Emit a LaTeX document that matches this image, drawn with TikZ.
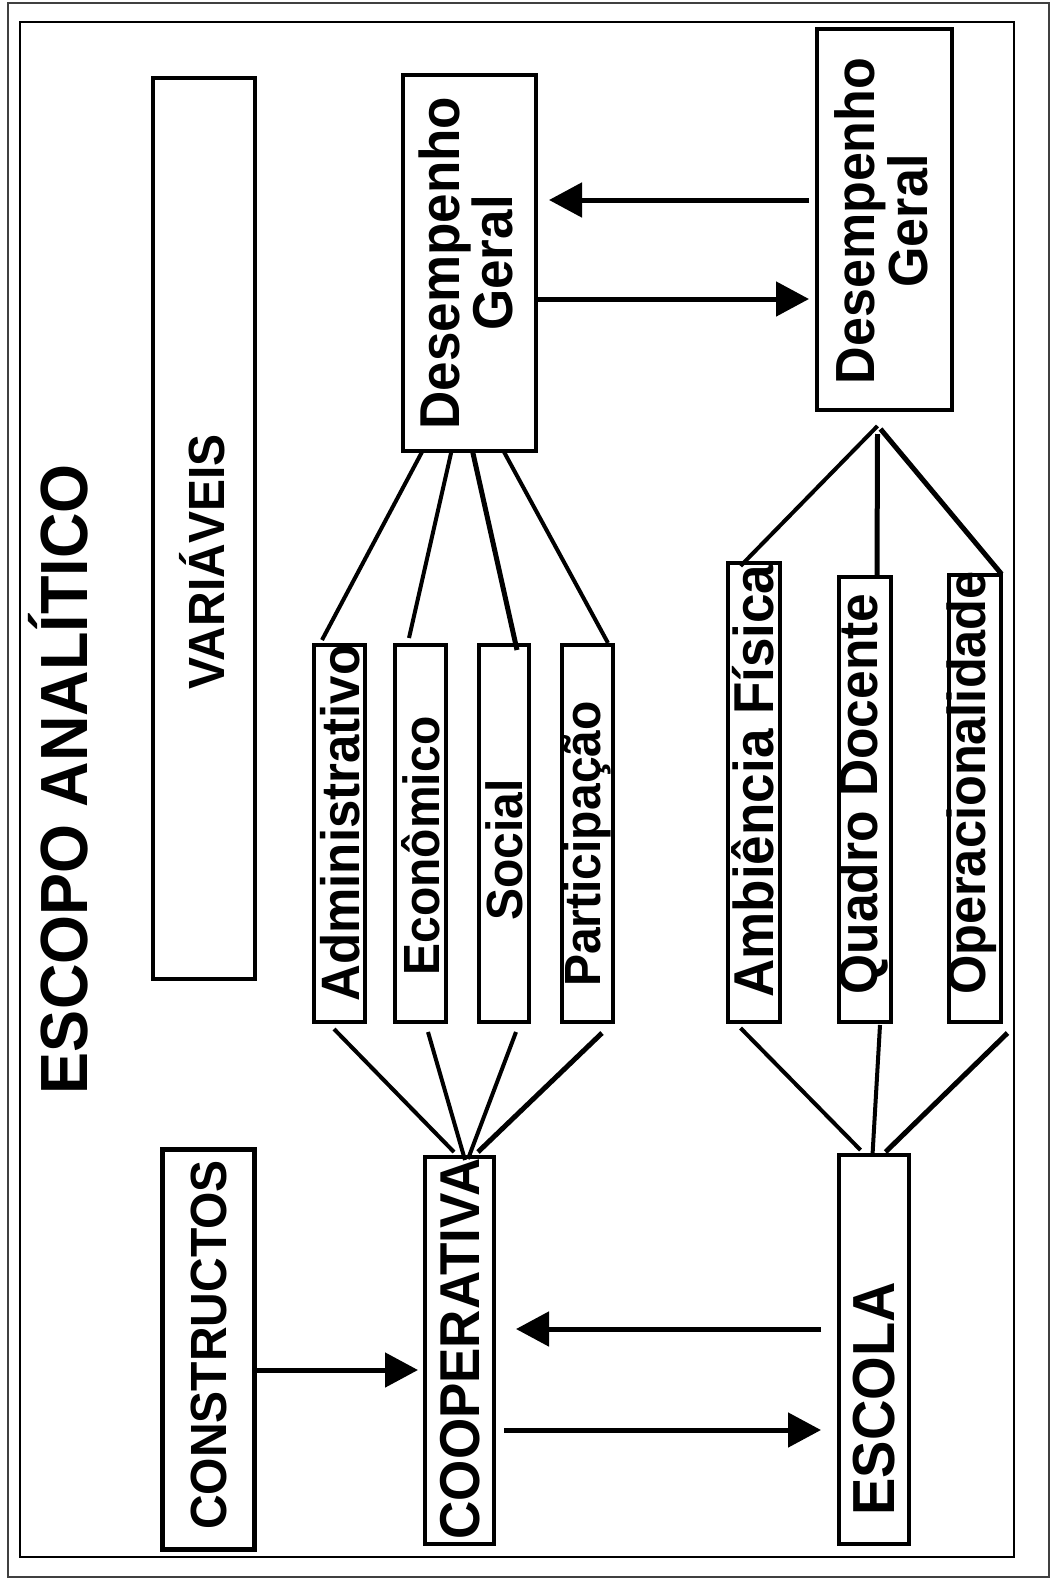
\documentclass[tikz,border=0pt]{standalone}
\usepackage{fontspec}
\setmainfont{Liberation Sans}
\usetikzlibrary{arrows.meta,calc}
\begin{document}
\begin{tikzpicture}[x=1pt,y=-1pt,
  box/.style={draw, line width=4pt, inner sep=0pt, outer sep=0pt},
  lbl/.style={rotate=90, yscale=1.06, font=\fontsize{#1}{50}\selectfont\bfseries, inner sep=0pt, align=center},
  lbl/.default=48,
  fan/.style={line width=4pt},
  arr/.style={line width=5pt, -{Triangle[length=33pt,width=34pt]}},
]
\path[use as bounding box] (0,0) rectangle (1050,1582);
\draw[line width=1.5pt, black!75] (8,3) rectangle (1049,1577);
\draw[line width=2.5pt] (20,22) rectangle (1014,1557);

% boxes
\node[box, line width=3.5pt, minimum width=102pt, minimum height=901pt] (vari) at (204,528.5) {};
\node[box, line width=5pt, minimum width=92pt, minimum height=400pt] (cons) at (208.5,1349.5) {};
\node[box, minimum width=69pt, minimum height=387pt] (coop) at (459.5,1350.5) {};
\node[box, minimum width=70pt, minimum height=389pt] (esc) at (874,1349.5) {};
\node[box, minimum width=133pt, minimum height=376pt] (dgl) at (469.5,263) {};
\node[box, minimum width=135pt, minimum height=381pt] (dgr) at (884.5,219.5) {};
\node[box, minimum width=51pt, minimum height=377pt] (adm) at (339.5,833.5) {};
\node[box, minimum width=51pt, minimum height=377pt] (eco) at (420.5,833.5) {};
\node[box, minimum width=50pt, minimum height=377pt] (soc) at (504,833.5) {};
\node[box, minimum width=51pt, minimum height=377pt] (par) at (587.5,833.5) {};
\node[box, minimum width=52pt, minimum height=459pt] (amb) at (754,792.5) {};
\node[box, minimum width=52pt, minimum height=445pt] (qua) at (865,799.5) {};
\node[box, minimum width=52pt, minimum height=447pt] (ope) at (975,798.5) {};

% labels
\node[lbl=63] (title) at (58,779) {ESCOPO ANALÍTICO};
\node[lbl] (tvari) at (202,562) {VARIÁVEIS};
\node[lbl] (tcons) at (209,1345) {CONSTRUCTOS};
\node[lbl=53] (tcoop) at (460,1349) {COOPERATIVA};
\node[lbl=56] (tesc) at (874,1399) {ESCOLA};
\node[lbl=53] (tdgl) at (466,263) {Desempenho\\Geral};
\node[lbl=52] (tdgr) at (881,221) {Desempenho\\Geral};
\node[lbl=51] (tadm) at (340,823) {Administrativo};
\node[lbl] (teco) at (421,846) {Econômico};
\node[lbl] (tsoc) at (504,850) {Social};
\node[lbl] (tpar) at (587,844) {Participação};
\node[lbl=53] (tamb) at (753,781) {Ambiência Física};
\node[lbl=51.5] (tqua) at (863,794) {Quadro Docente};
\node[lbl=50.5] (tope) at (972,783) {Operacionalidade};

% top left fan
\draw[fan] ([xshift=-47pt]dgl.south) -- ([xshift=-17.5pt,yshift=5pt]adm.north);
\draw[fan] ([xshift=-18pt]dgl.south) -- ([xshift=-11.5pt,yshift=7pt]eco.north);
\draw[fan, line width=5pt] ([xshift=3pt]dgl.south) -- ([xshift=13pt,yshift=-5pt]soc.north);
\draw[fan] ([xshift=34pt]dgl.south) -- ([xshift=20.5pt,yshift=2pt]par.north);
% bottom left fan
\draw[fan] ([xshift=-5.5pt,yshift=-7pt]adm.south) -- ([xshift=-5.5pt,yshift=5pt]coop.north);
\draw[fan] ([xshift=7.5pt,yshift=-10pt]eco.south) -- ([xshift=5.5pt,yshift=-3pt]coop.north);
\draw[fan] ([xshift=12pt,yshift=-10pt]soc.south) -- ([xshift=8.5pt,yshift=-2pt]coop.north);
\draw[fan, line width=5pt] ([xshift=14.5pt,yshift=-11pt]par.south) -- ([xshift=18.5pt,yshift=5pt]coop.north);
% top right fan
\draw[fan] ([xshift=-7pt,yshift=-16pt]dgr.south) -- ([xshift=-13.5pt,yshift=-3pt]amb.north);
\draw[fan, line width=5pt] ([xshift=-7pt,yshift=-24pt]dgr.south) -- ([xshift=12pt]qua.north);
\draw[fan, line width=5pt] ([xshift=-4pt,yshift=-19pt]dgr.south) -- ([xshift=26.5pt,yshift=1pt]ope.north);
% bottom right fan
\draw[fan] ([xshift=-13.5pt,yshift=-6pt]amb.south) -- ([xshift=-13.5pt,yshift=5pt]esc.north);
\draw[fan] ([xshift=15pt,yshift=-3pt]qua.south) -- ([xshift=-1.5pt]esc.north);
\draw[fan, line width=5pt] ([xshift=32.5pt,yshift=-11pt]ope.south) -- ([xshift=11.5pt,yshift=3pt]esc.north);

% arrows
\draw[arr, shorten <=8pt, shorten >=13pt] ([yshift=19.5pt]dgr.west) -- ([yshift=63pt]dgl.east);
\draw[arr, shorten >=8pt] ([yshift=-36pt]dgl.east) -- ([yshift=-79.5pt]dgr.west);
\draw[arr, shorten >=7pt] ([yshift=-20.5pt]cons.east) -- ([yshift=-19.5pt]coop.west);
\draw[arr, shorten <=18pt, shorten >=22pt] ([yshift=20.5pt]esc.west) -- ([yshift=21.5pt]coop.east);
\draw[arr, shorten <=10pt, shorten >=18pt] ([yshift=-79.5pt]coop.east) -- ([yshift=-80.5pt]esc.west);
\end{tikzpicture}
\end{document}
